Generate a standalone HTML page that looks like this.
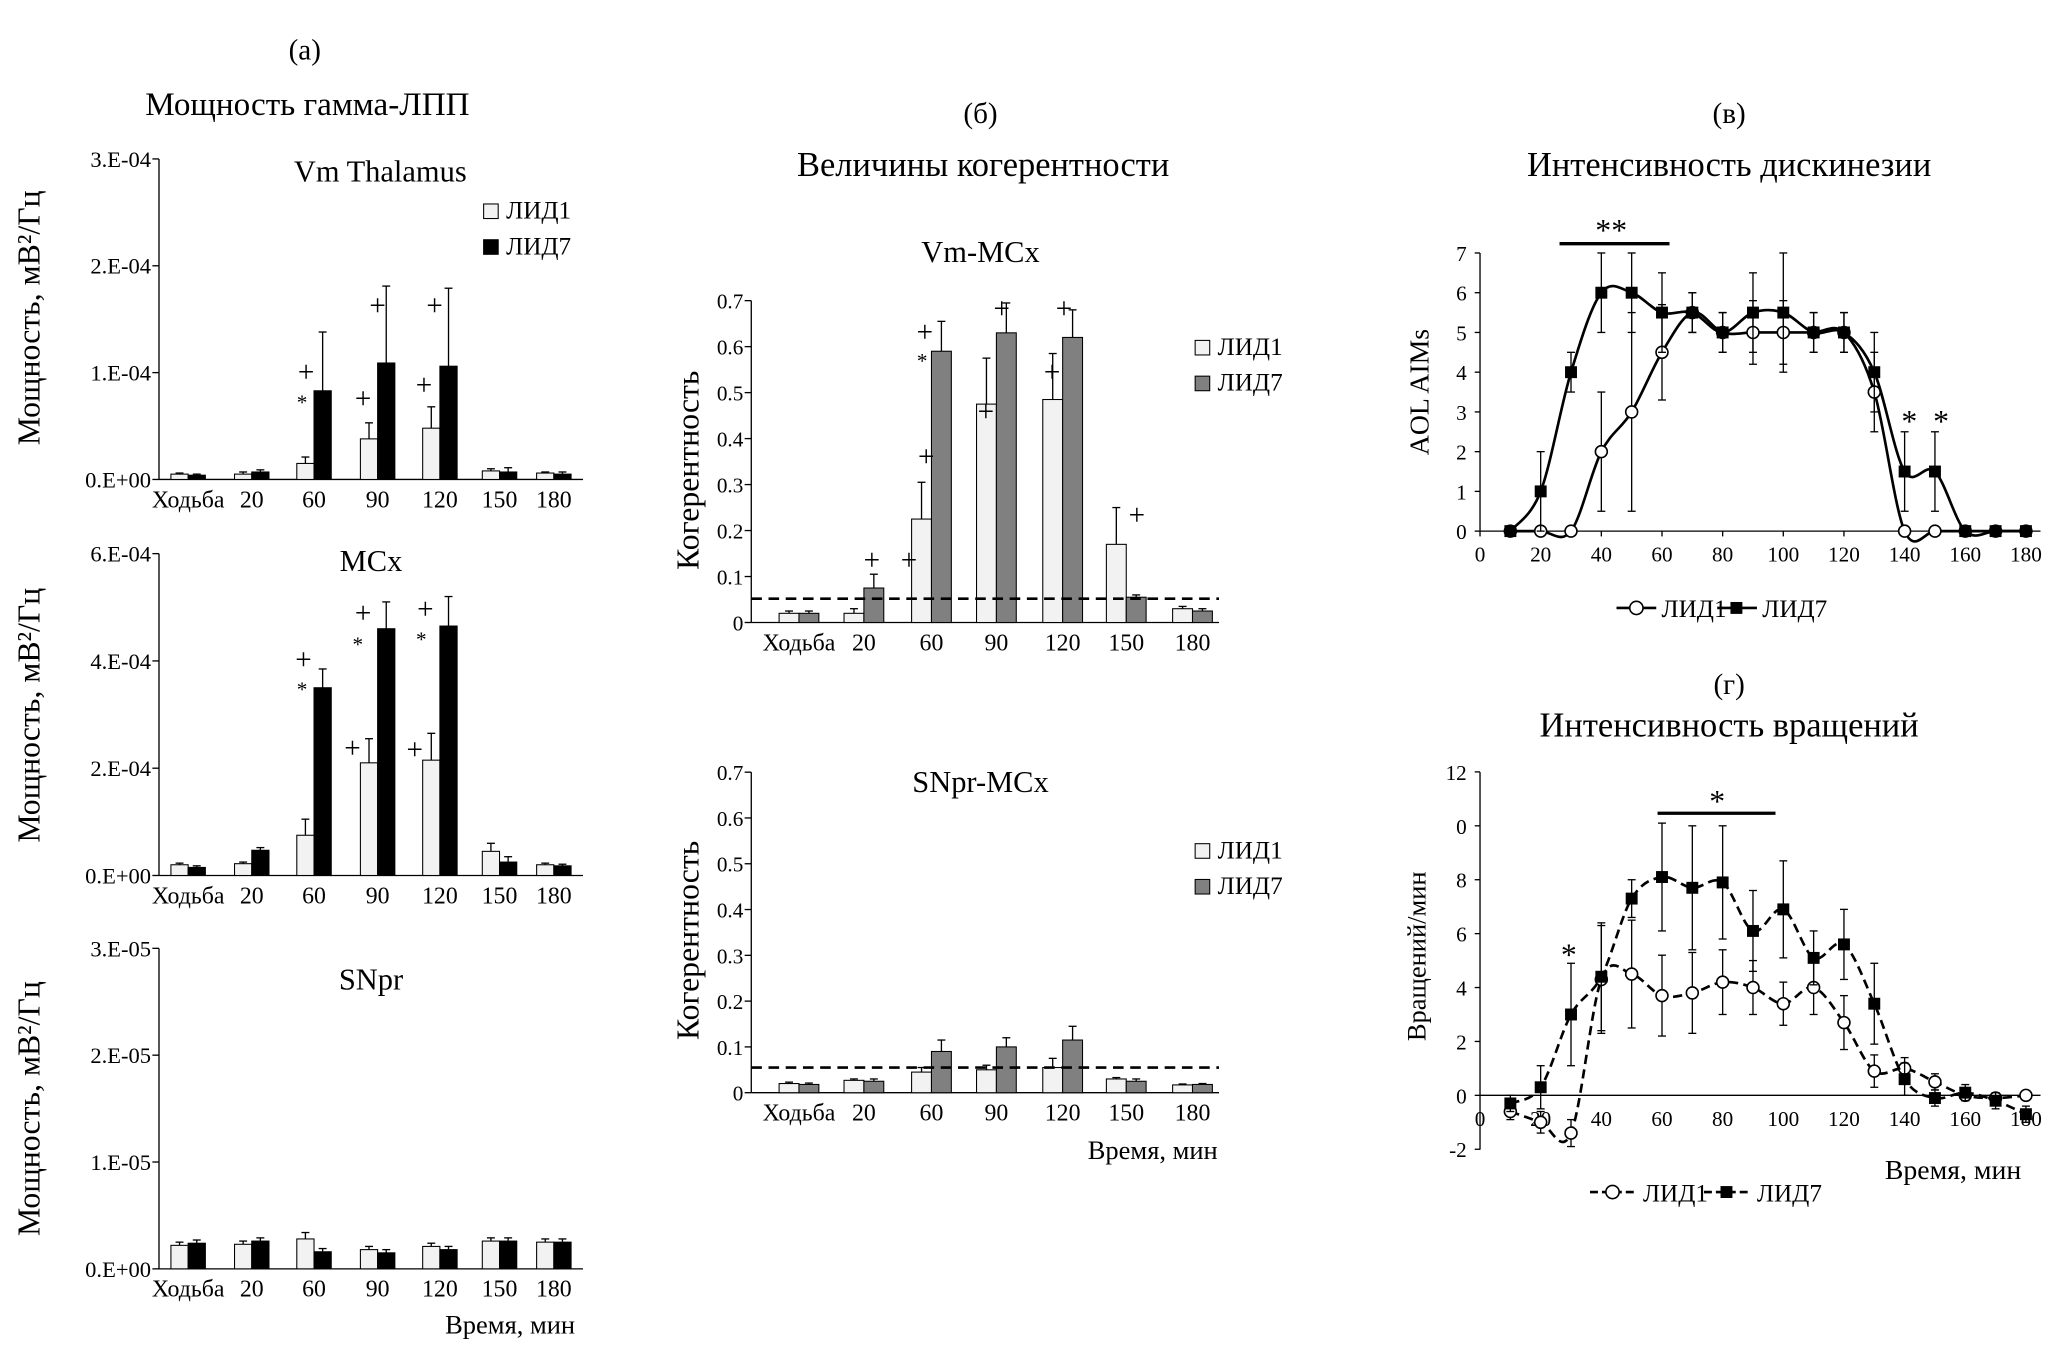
<!DOCTYPE html>
<html><head><meta charset="utf-8">
<style>
html,body{margin:0;padding:0;background:#fff;}
svg{display:block;}
text{font-family:"Liberation Serif",serif;fill:#000;}
</style></head>
<body>
<svg id="s" width="2067" height="1347" viewBox="0 0 1560 1017" preserveAspectRatio="none" xmlns="http://www.w3.org/2000/svg"></svg>
<script>
const S=document.getElementById('s');let h='';
function T(x,y,t,sz,anc,extra){h+=`<text x="${x}" y="${y}" font-size="${sz}" text-anchor="${anc||'middle'}" ${extra||''}>${t}</text>`;}
function L(x1,y1,x2,y2,w,extra){h+=`<line x1="${x1}" y1="${y1}" x2="${x2}" y2="${y2}" stroke="#000" stroke-width="${w||1}" ${extra||''}/>`;}
function R(x,y,w,hh,f){h+=`<rect x="${x}" y="${y}" width="${w}" height="${hh}" fill="${f}" stroke="#000" stroke-width="0.8"/>`;}
const cats=['Ходьба','20','60','90','120','150','180'];
function bar(ax,y0,ytop,ymax,ticks,tlabels,cx,d1,d2,e1,e2,c2,xend,bw,ysz){
 const sc=(y0-ytop)/ymax;
 L(ax,ytop,ax,y0);L(ax,y0,xend,y0);
 ticks.forEach((v,i)=>{const y=y0-v*sc;L(ax-5,y,ax,y);T(ax-6,y+6,tlabels[i],ysz||17,'end');});
 cx.forEach((c,i)=>{
  const hh1=d1[i]*sc,hh2=d2[i]*sc;
  R(c-bw,y0-hh1,bw,hh1,'#f2f2f2');R(c,y0-hh2,bw,hh2,c2);
  [[c-bw/2,d1[i],e1[i]],[c+bw/2,d2[i],e2[i]]].forEach(([x,v,e])=>{const y=y0-v*sc,ye=y0-(v+e)*sc;L(x,y,x,ye);L(x-3,ye,x+3,ye);});
  T(c,y0+21,cats[i],18);
 });
}
function legend(x,y,c2){R(x,y-11,11,11,'#f2f2f2');T(x+17,y,'ЛИД1',19,'start');R(x,y+16,11,11,c2);T(x+17,y+27,'ЛИД7',19,'start');}
function rotT(x,y,t,sz){h+=`<text x="${x}" y="${y}" font-size="${sz}" text-anchor="middle" transform="rotate(-90 ${x} ${y})">${t}</text>`;}
const cxA=[142,190,237,285,332,377,418];
T(230,45,'(a)',22);T(232,87,'Мощность гамма-ЛПП',25);
// chart 1
T(287,137,'Vm Thalamus',23);
bar(120,362,120,3,[0,1,2,3],['0.E+00','1.E-04','2.E-04','3.E-04'],cxA,[.05,.05,.15,.38,.48,.08,.06],[.04,.07,.83,1.09,1.06,.07,.05],[.01,.02,.06,.15,.2,.02,.01],[.01,.02,.55,.72,.73,.04,.02],'#000',440,13);
legend(365,165,'#000');rotT(30,240,'Мощность, мВ²/Гц',24);
T(231,288,'+',22);T(228,309,'*',16);T(274,308,'+',22);T(285,238,'+',22);T(320,298,'+',22);T(328,238,'+',22);
// chart 2
T(280,431,'MCx',23);
bar(120,661,418,6,[0,2,4,6],['0.E+00','2.E-04','4.E-04','6.E-04'],cxA,[.2,.22,.75,2.1,2.15,.45,.2],[.15,.47,3.5,4.6,4.65,.25,.18],[.03,.03,.3,.45,.5,.15,.03],[.03,.05,.35,.5,.55,.1,.03],'#000',440,13);
rotT(30,540,'Мощность, мВ²/Гц',24);
T(229,505,'+',22);T(228,526,'*',16);T(266,572,'+',22);T(274,470,'+',22);T(270,492,'*',16);T(313,573,'+',22);T(321,467,'+',22);T(318,488,'*',16);
// chart 3
T(280,747,'SNpr',23);
bar(120,958,716,3,[0,1,2,3],['0.E+00','1.E-05','2.E-05','3.E-05'],cxA,[.22,.23,.28,.18,.21,.26,.25],[.24,.26,.16,.15,.18,.26,.25],[.03,.03,.06,.03,.03,.03,.03],[.03,.03,.03,.03,.03,.03,.03],'#000',440,13);
rotT(30,837,'Мощность, мВ²/Гц',24);
T(385,1007,'Время, мин',20);
// panel б
const cxB=[603,652,703,752,802,850,900];
T(740,93,'(б)',22);T(742,133,'Величины когерентности',26);
T(740,198,'Vm-MCx',23);
bar(567,470,227,.7,[0,.1,.2,.3,.4,.5,.6,.7],['0','0.1','0.2','0.3','0.4','0.5','0.6','0.7'],cxB,[.02,.02,.225,.475,.485,.17,.03],[.02,.075,.59,.63,.62,.055,.025],[.005,.01,.08,.1,.1,.08,.005],[.005,.03,.065,.065,.06,.005,.005],'#808080',920,15,16);
L(567,452,920,452,2,'stroke-dasharray="8,5"');
legend(902,268,'#808080');rotT(527,355,'Когерентность',24);
T(686,430,'+',22);T(699,352,'+',22);T(698,258,'+',22);T(696,278,'*',16);T(658,430,'+',22);T(744,318,'+',22);T(756,240,'+',22);T(794,288,'+',22);T(803,240,'+',22);T(858,396,'+',22);
T(740,598,'SNpr-MCx',23);
bar(567,825,583,.7,[0,.1,.2,.3,.4,.5,.6,.7],['0','0.1','0.2','0.3','0.4','0.5','0.6','0.7'],cxB,[.02,.027,.045,.05,.055,.03,.017],[.018,.025,.09,.1,.115,.025,.018],[.003,.003,.01,.01,.02,.003,.002],[.003,.005,.025,.02,.03,.005,.002],'#808080',920,15,16);
L(567,806,920,806,2,'stroke-dasharray="8,5"');
legend(902,648,'#808080');rotT(527,710,'Когерентность',24);
T(870,875,'Время, мин',20);
// line charts
function smooth(pts){let d=`M${pts[0][0]},${pts[0][1]}`;for(let i=0;i<pts.length-1;i++){const p0=pts[i-1]||pts[i],p1=pts[i],p2=pts[i+1],p3=pts[i+2]||p2;const t=6;d+=` C${p1[0]+(p2[0]-p0[0])/t},${p1[1]+(p2[1]-p0[1])/t} ${p2[0]-(p3[0]-p1[0])/t},${p2[1]-(p3[1]-p1[1])/t} ${p2[0]},${p2[1]}`;}return d;}
function line(x0,y0,ux,uy,xs,vals,errs,open,dash){
 const pts=xs.map((x,i)=>[x0+x*ux,y0-vals[i]*uy]);
 pts.forEach((p,i)=>{const e=errs[i]*uy;if(e>0){L(p[0],p[1]-e,p[0],p[1]+e);L(p[0]-3,p[1]-e,p[0]+3,p[1]-e);L(p[0]-3,p[1]+e,p[0]+3,p[1]+e);}});
 h+=`<path d="${smooth(pts)}" fill="none" stroke="#000" stroke-width="2" ${dash?'stroke-dasharray="7,4"':''}/>`;
 pts.forEach(p=>{if(open)h+=`<circle cx="${p[0]}" cy="${p[1]}" r="4.5" fill="#fff" stroke="#000" stroke-width="1.2"/>`;else h+=`<rect x="${p[0]-4.5}" y="${p[1]-4.5}" width="9" height="9" fill="#000"/>`;});
}
const xs=[10,20,30,40,50,60,70,80,90,100,110,120,130,140,150,160,170,180];
T(1305,93,'(в)',22);T(1305,133,'Интенсивность дискинезии',26);
{const x0=1117,y0=401,ux=412/180,uy=30;
L(x0,y0,x0,191);L(x0,y0,1540,y0);
for(let v=0;v<=7;v++){L(x0-4,y0-v*uy,x0,y0-v*uy);T(x0-10,y0-v*uy+6,v,16,'end');}
for(let v=0;v<=180;v+=20){L(x0+v*ux,y0,x0+v*ux,y0+4);T(x0+v*ux,y0+23,v,16);}
line(x0,y0,ux,uy,xs,[0,0,0,2,3,4.5,5.5,5,5,5,5,5,3.5,0,0,0,0,0],[0,0,0,1.5,2.5,1.2,.5,.5,.8,.8,.5,.5,1,0,0,0,0,0],true,false);
line(x0,y0,ux,uy,xs,[0,1,4,6,6,5.5,5.5,5,5.5,5.5,5,5,4,1.5,1.5,0,0,0],[0,1,.5,1,1,1,.5,.5,1,1.5,.5,.5,1,1,1,0,0,0],false,false);
L(1177,184,1260,184,2.5);T(1216,182,'**',24);T(1441,326,'*',24);T(1465,326,'*',24);
rotT(1078,296,'AOL AIMs',21);
L(1220,459,1250,459,2);h+=`<circle cx="1235" cy="459" r="5" fill="#fff" stroke="#000" stroke-width="1.2"/>`;T(1254,466,'ЛИД1',19,'start');
L(1296,459,1326,459,2);h+=`<rect x="1306" y="454.5" width="9" height="9"/>`;T(1330,466,'ЛИД7',19,'start');
}
T(1305,524,'(г)',22);T(1305,556,'Интенсивность вращений',26);
{const x0=1117,y0=827,ux=412/180,uy=20.35;
L(x0,868,x0,583);L(x0,y0,1540,y0);
[12,10,8,6,4,2,0,-2].forEach(v=>{L(x0-4,y0-v*uy,x0,y0-v*uy);T(x0-10,y0-v*uy+6,v==10?'0':v,16,'end');});
for(let v=0;v<=180;v+=20){T(x0+v*ux,y0+23,v,16);}
line(x0,y0,ux,uy,xs,[-.6,-1,-1.4,4.3,4.5,3.7,3.8,4.2,4,3.4,4,2.7,.9,1,.5,0,-.1,0],[.3,.4,.5,2,2,1.5,1.5,1.2,1,.8,1,1,.6,.4,.3,.2,.2,.1],true,true);
line(x0,y0,ux,uy,xs,[-.3,.3,3,4.4,7.3,8.1,7.7,7.9,6.1,6.9,5.1,5.6,3.4,.6,-.1,.1,-.2,-.7],[.3,.8,1.9,2,.7,2,2.3,2.1,1.5,1.8,1,1.3,1.5,.6,.3,.3,.3,.3],false,true);
L(1251,614,1340,614,2.5);T(1296,613,'*',24);T(1184,729,'*',24);
rotT(1076,722,'Вращений/мин',20);
T(1474,890,'Время, мин',21);
L(1200,900,1234,900,2,'stroke-dasharray="6,3"');h+=`<circle cx="1217" cy="900" r="5" fill="#fff" stroke="#000" stroke-width="1.2"/>`;T(1240,907,'ЛИД1',19,'start');
L(1286,900,1320,900,2,'stroke-dasharray="6,3"');h+=`<rect x="1298.5" y="895.5" width="9" height="9"/>`;T(1326,907,'ЛИД7',19,'start');
}
S.innerHTML=h;
</script>
</body></html>
